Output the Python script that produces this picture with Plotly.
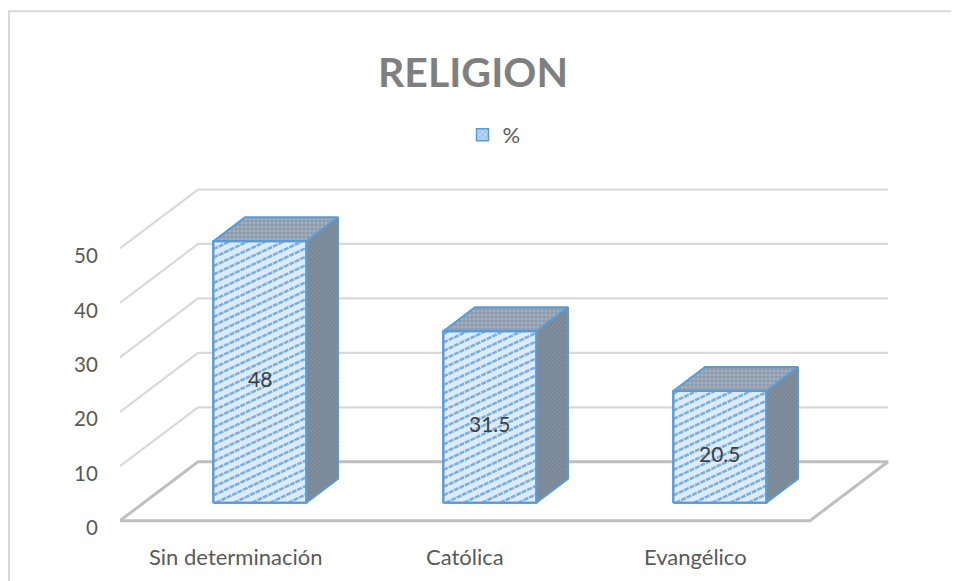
import plotly.graph_objects as go

categories = ["Sin determinación", "Católica", "Evangélico"]
values = [48, 31.5, 20.5]
value_labels = ["48", "31.5", "20.5"]
series_name = "%"
title_text = "RELIGION"
y_ticks = [0, 10, 20, 30, 40, 50]

# Geometry in page pixels; the page body adds an 8px margin round the figure
OFF = 8
W, H = 959 - OFF, 581 - OFF
PX_L, PX_R, PX_T, PX_FLOOR = 120, 890, 185, 521
PX_PER_CAT = 230.0
PX_PER_VAL = 5.45
DX = 78 / PX_PER_CAT
DY = 59 / PX_PER_VAL
BAR_HALF = 46.5 / PX_PER_CAT
BAR_SHIFT = 1 / PX_PER_CAT
BAR_D0 = 18 / 59
BAR_D1 = 42 / 59
TICK_DROP = 7.5 / PX_PER_VAL  # tick labels sit a little below their gridlines

X_MIN = -0.5
X_MAX = X_MIN + (PX_R - PX_L) / PX_PER_CAT
Y_MIN = -3.0
Y_MAX = (PX_FLOOR - PX_T) / PX_PER_VAL
PX_B = PX_FLOOR - Y_MIN * PX_PER_VAL


def proj(c, d, v):
    return c + d * DX, v + d * DY


def bproj(c, d, v):
    return c + BAR_SHIFT + d * DX, v + d * DY


BLUE = "#5b9bd5"
GRID = "#d9d9d9"
FLOOR = "#bfbfbf"
TXT = "#595959"

fig = go.Figure()


def line(xs, ys, color, width):
    fig.add_trace(go.Scatter(x=xs, y=ys, mode="lines", line=dict(color=color, width=width),
                             showlegend=False, hoverinfo="skip", cliponaxis=False))


for t in y_ticks[1:]:
    a = proj(X_MIN, 0, t)
    b = proj(X_MIN, 1, t)
    c = proj(X_MIN + 3, 1, t)
    line([a[0], b[0], c[0]], [a[1], b[1], c[1]], GRID, 2.2)

corners = [proj(X_MIN, 0, 0), proj(X_MIN, 1, 0), proj(X_MIN + 3, 1, 0), proj(X_MIN + 3, 0, 0), proj(X_MIN, 0, 0)]
line([p[0] for p in corners], [p[1] for p in corners], FLOOR, 3)


def face(points, bg, fg, shape, size, solidity):
    xs = [p[0] for p in points] + [points[0][0]]
    ys = [p[1] for p in points] + [points[0][1]]
    fig.add_trace(go.Scatter(x=xs, y=ys, mode="lines", fill="toself", fillcolor=bg,
                             fillpattern=dict(shape=shape, bgcolor=bg, fgcolor=fg, size=size, solidity=solidity),
                             line=dict(color=BLUE, width=2), showlegend=False, hoverinfo="skip"))


def hatch(x0, x1, y0, y1):
    """Shallow diagonal hatch clipped to the front face of a bar."""
    slope = 0.47 * PX_PER_CAT / PX_PER_VAL
    step = 8.5 / PX_PER_VAL
    xs, ys = [], []
    base = y0 - slope * (x1 - x0)
    while base < y1:
        xa, ya = x0, base
        xb, yb = x1, base + slope * (x1 - x0)
        if ya < y0:
            xa = x0 + (y0 - base) / slope
            ya = y0
        if yb > y1:
            xb = x0 + (y1 - base) / slope
            yb = y1
        xs += [xa, xb, None]
        ys += [ya, yb, None]
        base += step
    fig.add_trace(go.Scatter(x=xs, y=ys, mode="lines",
                             line=dict(color="#78b0e2", width=2.6, dash="5px 1px"),
                             showlegend=False, hoverinfo="skip"))


for i, v in enumerate(values):
    l, r = i - BAR_HALF, i + BAR_HALF
    f = [bproj(l, BAR_D0, 0), bproj(r, BAR_D0, 0), bproj(r, BAR_D0, v), bproj(l, BAR_D0, v)]
    face([bproj(r, BAR_D0, 0), bproj(r, BAR_D1, 0), bproj(r, BAR_D1, v), bproj(r, BAR_D0, v)],
         "#778594", "#9dacbd", "x", 3, 0.35)
    face([bproj(l, BAR_D0, v), bproj(r, BAR_D0, v), bproj(r, BAR_D1, v), bproj(l, BAR_D1, v)],
         "#8c9bac", "#bcc5cf", ".", 4, 0.45)
    face(f, "#deebf7", "#deebf7", "", 8, 0.3)
    hatch(f[0][0], f[1][0], f[0][1], f[2][1])
    line([p[0] for p in f] + [f[0][0]], [p[1] for p in f] + [f[0][1]], BLUE, 2)
    cx, cy = bproj(i, BAR_D0, v / 2)
    fig.add_annotation(x=cx, y=cy, yshift=-6.5, text=value_labels[i], showarrow=False,
                       font=dict(family="Lato", size=21, color="#404040"))

for i, c in enumerate(categories):
    fig.add_annotation(x=i, y=0, yshift=-36, text=c, showarrow=False,
                       font=dict(family="Lato", size=22, color=TXT))

fig.add_trace(go.Bar(x=[None], y=[None], name=series_name,
                     marker=dict(color="#deebf7", line=dict(color=BLUE, width=1.5),
                                 pattern=dict(shape="x", bgcolor="#bcd6ee", fgcolor=BLUE, size=5, solidity=0.35))))

frac_x = lambda px: (px - PX_L) / (PX_R - PX_L)
frac_y = lambda px: (PX_B - px) / (PX_B - PX_T)

fig.update_layout(
    width=W, height=H,
    margin=dict(l=PX_L - OFF, r=W - (PX_R - OFF), t=PX_T - OFF, b=H - (PX_B - OFF), autoexpand=False),
    paper_bgcolor="white", plot_bgcolor="rgba(0,0,0,0)",
    title=dict(text=f"<b>{title_text}</b>", x=(473 - OFF) / W, xanchor="center", y=1 - (73 - OFF) / H, yanchor="middle",
               font=dict(family="Lato", size=41, color="#7f7f7f")),
    showlegend=True,
    legend=dict(orientation="h", x=frac_x(494), xanchor="center", y=frac_y(135), yanchor="middle",
                font=dict(family="Lato", size=22, color=TXT), itemclick=False, itemdoubleclick=False),
    xaxis=dict(range=[X_MIN, X_MAX], showgrid=False, zeroline=False, showticklabels=False, ticks="", showline=False),
    yaxis=dict(range=[Y_MIN, Y_MAX], tickmode="array", tickvals=[t - TICK_DROP for t in y_ticks],
               ticktext=[str(t) for t in y_ticks], showgrid=False, zeroline=False,
               ticks="outside", ticklen=17, tickcolor="rgba(0,0,0,0)", showline=False,
               tickfont=dict(family="Lato", size=20.5, color=TXT)),
    shapes=[dict(type="path", xref="paper", yref="paper",
                 path=f"M {frac_x(9)} {frac_y(590)} L {frac_x(9)} {frac_y(11)} L {frac_x(970)} {frac_y(11)}",
                 line=dict(color="#d9d9d9", width=2), layer="below")],
)

fig.write_html("out.html")
